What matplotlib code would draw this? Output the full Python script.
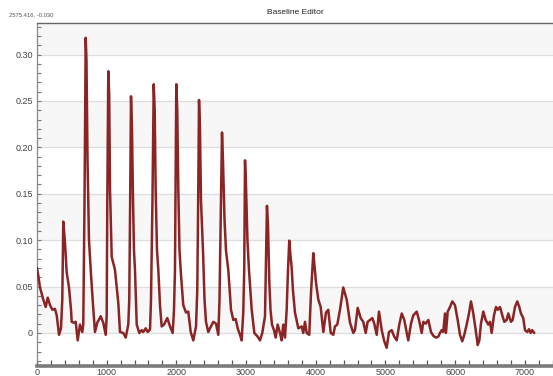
import matplotlib
matplotlib.use("Agg")
import matplotlib.pyplot as plt
from matplotlib.ticker import MultipleLocator, FuncFormatter

plt.rcParams['font.family'] = ['Liberation Sans', 'DejaVu Sans']

# retention time / signal trace
time = [0, 22, 43, 90, 125, 154, 187, 220, 258, 283, 316, 344, 363, 377, 402, 426, 459, 488, 498, 531, 555, 584, 617, 650,
        664, 682, 699, 710, 725, 746, 775, 804, 832, 865, 914, 951, 986, 1000,
        1009, 1023, 1036, 1048, 1072, 1119, 1167, 1191, 1238, 1273, 1310, 1324,
        1337, 1349, 1363, 1378, 1392, 1406, 1431, 1468, 1503, 1525, 1560, 1589, 1622, 1636,
        1657, 1675, 1689, 1703, 1722, 1741, 1765, 1789, 1822, 1870, 1909, 1947, 1966, 1980,
        1987, 1999, 2013, 2028, 2045, 2066, 2099, 2138, 2171, 2206, 2243, 2282, 2300,
        2313, 2325, 2339, 2353, 2382, 2404, 2425, 2458, 2483, 2530, 2569, 2602, 2619,
        2640, 2655, 2669, 2691, 2712, 2745, 2784, 2817, 2851, 2880, 2913, 2937, 2960, 2974,
        2985, 2999, 3020, 3042, 3081, 3119, 3167, 3200, 3233, 3272, 3286,
        3300, 3315, 3333, 3351, 3372, 3401, 3425, 3454, 3487, 3511, 3534, 3559, 3583, 3602,
        3620, 3637, 3654, 3673, 3702, 3750, 3798, 3821, 3846, 3870, 3907, 3932,
        3965, 3982, 4004, 4037, 4071, 4109, 4147, 4180, 4215, 4252, 4276, 4309, 4348, 4395, 4444, 4492, 4539, 4563,
        4602, 4645, 4682, 4717, 4745, 4779, 4812, 4840, 4875, 4908, 4947, 4984, 5018, 5051, 5090, 5127, 5162, 5199,
        5234, 5271, 5306, 5328, 5367, 5400, 5449, 5482, 5521, 5544, 5578, 5616, 5654, 5687, 5726, 5759, 5783, 5807,
        5830, 5855, 5869, 5894, 5927, 5960, 5998, 6037, 6070, 6103, 6132, 6166, 6199, 6228, 6261, 6296, 6325, 6348,
        6371, 6405, 6439, 6476, 6501, 6525, 6558, 6587, 6611, 6644, 6677, 6706, 6740, 6763, 6802, 6826, 6859, 6892,
        6921, 6945, 6978, 7003, 7036, 7060, 7084, 7107, 7136]

signal = [0.070, 0.060, 0.049, 0.036, 0.028, 0.038, 0.030, 0.025, 0.026, 0.019, -0.002, 0.005, 0.036, 0.120, 0.097, 0.065, 0.049, 0.025, 0.012, 0.011, 0.012, -0.008, 0.009, 0.001,
          0.009, 0.143, 0.318, 0.294, 0.186, 0.100, 0.063, 0.030, 0.001, 0.011, 0.018, 0.011, -0.002, 0.018,
          0.143, 0.282, 0.257, 0.154, 0.082, 0.068, 0.032, 0.001, 0.000, -0.005, 0.009, 0.036,
          0.143, 0.255, 0.219, 0.143, 0.089, 0.068, 0.009, 0.000, 0.003, 0.001, 0.005, 0.001, 0.004, 0.036,
          0.143, 0.268, 0.240, 0.154, 0.089, 0.068, 0.030, 0.007, 0.009, 0.016, 0.007, 0.000, 0.025, 0.068,
          0.143, 0.268, 0.240, 0.154, 0.089, 0.063, 0.030, 0.022, 0.023, 0.001, -0.008, 0.007, 0.046,
          0.143, 0.251, 0.219, 0.143, 0.089, 0.036, 0.012, 0.001, 0.005, 0.012, 0.010, -0.002, 0.036,
          0.143, 0.216, 0.186, 0.122, 0.089, 0.068, 0.025, 0.014, 0.015, 0.005, -0.002, -0.008, 0.022, 0.068,
          0.186, 0.160, 0.100, 0.068, 0.025, 0.000, -0.004, -0.008, 0.000, 0.018, 0.079,
          0.137, 0.116, 0.057, 0.025, 0.009, 0.003, -0.005, 0.009, 0.000, -0.008, 0.009, -0.005, 0.025, 0.068,
          0.0995, 0.084, 0.071, 0.046, 0.022, 0.005, 0.007, 0.000, 0.012, 0.000, -0.002, 0.043,
          0.086, 0.073, 0.054, 0.036, 0.028, 0.001, 0.022, 0.025, 0.000, -0.002, 0.007, 0.009, 0.025, 0.049, 0.036, 0.011, 0.000, 0.003,
          0.027, 0.016, 0.012, 0.000, 0.012, 0.014, 0.016, 0.010, -0.002, 0.023, 0.003, -0.009, -0.016, 0.001, 0.003, -0.004, -0.008, 0.009,
          0.021, 0.014, 0.000, -0.008, 0.010, 0.019, 0.023, 0.014, 0.000, 0.012, 0.010, 0.014, 0.001, -0.003, -0.005, -0.004, 0.000, 0.003,
          0.001, 0.021, 0.000, 0.023, 0.028, 0.034, 0.030, 0.014, -0.002, -0.009, -0.002, 0.009, 0.021, 0.034, 0.021, 0.003, -0.013, -0.008,
          0.010, 0.023, 0.014, 0.009, 0.012, 0.000, 0.019, 0.028, 0.025, 0.028, 0.019, 0.012, 0.014, 0.021, 0.012, 0.014, 0.028, 0.034,
          0.028, 0.021, 0.016, 0.003, 0.001, 0.004, 0.000, 0.003, 0.000]

band_edges = [0.0, 0.05, 0.10, 0.15, 0.20, 0.25, 0.30, 0.35]

fig = plt.figure(figsize=(5.53, 3.76), dpi=100)
ax = fig.add_axes([37 / 553, 1 - 362 / 376, 516 / 553, 339 / 376])

ax.set_xlim(0, 7405)
ax.set_ylim(-0.0313, 0.334)

# alternating horizontal bands
for i in range(0, len(band_edges) - 1, 2):
    ax.axhspan(band_edges[i], band_edges[i + 1], color='#f7f7f7', lw=0, zorder=0)
ax.yaxis.grid(True, color='#dedede', lw=0.9, zorder=1)

ax.plot(time, signal, color='#8b2424', lw=1.8, solid_joinstyle='round', solid_capstyle='round', zorder=3)

ax.yaxis.set_major_locator(MultipleLocator(0.05))
ax.yaxis.set_minor_locator(MultipleLocator(0.01))
ax.yaxis.set_major_formatter(FuncFormatter(lambda v, p: '0' if abs(v) < 1e-9 else f'{v:.2f}'))
ax.xaxis.set_major_locator(MultipleLocator(1000))
ax.xaxis.set_minor_locator(MultipleLocator(200))

ax.tick_params(axis='y', which='both', direction='in', length=3, width=0.8, color='#777777',
               labelsize=6.5, labelcolor='#444444', pad=3)
ax.tick_params(axis='x', which='both', direction='in', length=4, width=0.9, color='#555555',
               labelsize=6.5, labelcolor='#444444', pad=1.5)

ax.spines['right'].set_visible(False)
ax.spines['top'].set_color('#666666')
ax.spines['top'].set_linewidth(1.0)
ax.spines['left'].set_color('#888888')
ax.spines['left'].set_linewidth(0.9)
ax.spines['bottom'].set_position(('outward', 3))
ax.spines['bottom'].set_color('#7a7a7a')
ax.spines['bottom'].set_linewidth(2.6)

fig.text(295 / 553, 1 - 13 / 376, 'Baseline Editor', ha='center', va='center', fontsize=6, color='#222222')
fig.text(9 / 553, 1 - 14.5 / 376, '2575.416, -0.030', ha='left', va='center', fontsize=4.2, color='#555555')

fig.savefig('out.png', dpi=100, facecolor='white')
